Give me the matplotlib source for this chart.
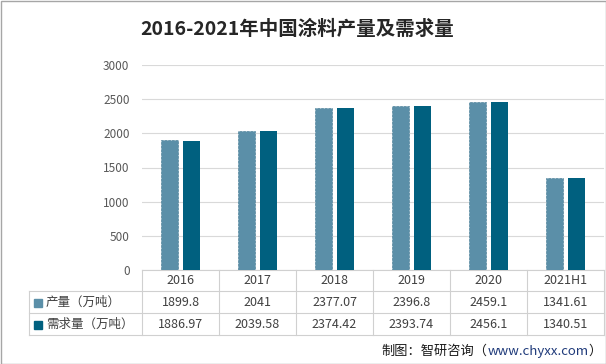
import numpy as np
import matplotlib
matplotlib.use('Agg')
import matplotlib.pyplot as plt
from matplotlib.transforms import blended_transform_factory
from matplotlib.patches import Rectangle

plt.rcParams['font.family'] = ['Noto Sans CJK SC', 'DejaVu Sans']

years = ['2016', '2017', '2018', '2019', '2020', '2021H1']
output = [1899.8, 2041, 2377.07, 2396.8, 2459.1, 1341.61]
demand = [1886.97, 2039.58, 2374.42, 2393.74, 2456.1, 1340.51]
output_labels = ['1899.8', '2041', '2377.07', '2396.8', '2459.1', '1341.61']
demand_labels = ['1886.97', '2039.58', '2374.42', '2393.74', '2456.1', '1340.51']
series_names = ['产量（万吨）', '需求量（万吨）']
colors = ['#5b8fa8', '#00607f']

W, H = 606, 364
fig = plt.figure(figsize=(W / 100, H / 100), dpi=100)
# plot area in pixels: x 142..604, y 65..270
ax = fig.add_axes([142 / W, (H - 270) / H, 462 / W, 205 / H])

x = np.arange(len(years))
ax.bar(x - 0.143, output, 0.22, color=colors[0], edgecolor='#52849c',
       linestyle='--', linewidth=0.5, zorder=3)
ax.bar(x + 0.143, demand, 0.22, color=colors[1], zorder=3)

ax.set_xlim(-0.5, len(years) - 0.5)
ax.set_ylim(0, 3000)
ax.set_yticks(range(0, 3001, 500))
ax.grid(axis='y', color='#d9d9d9', linewidth=0.8)
ax.set_axisbelow(True)
for s in ['left', 'right', 'top']:
    ax.spines[s].set_visible(False)
ax.spines['bottom'].set_color('#d0d0d0')
ax.set_xticks([])
ax.tick_params(axis='y', length=0, labelsize=8.5, labelcolor='#595959', pad=9)

# ---- data table below the axis ----
trans = blended_transform_factory(ax.transData, ax.transAxes)


def xd(px):
    return -0.5 + (px - 142) / 77.0


def ya(py):
    return (270 - py) / 205.0


line_kw = dict(color='#d0d0d0', linewidth=0.8, transform=trans, clip_on=False)
for py in [291, 313, 335]:
    ax.plot([xd(29), xd(604)], [ya(py), ya(py)], **line_kw)
ax.plot([xd(29), xd(29)], [ya(291), ya(335)], **line_kw)
for i in range(len(years) + 1):
    bx = i - 0.5
    ax.plot([bx, bx], [ya(270), ya(335)], **line_kw)

for i, yr in enumerate(years):
    ax.text(i, ya(281), yr, ha='center', va='center', fontsize=9,
            color='#404040', transform=trans)
    ax.text(i, ya(302.5), output_labels[i], ha='center', va='center',
            fontsize=9, color='#404040', transform=trans)
    ax.text(i, ya(324.5), demand_labels[i], ha='center', va='center',
            fontsize=9, color='#404040', transform=trans)

for name, c, py in zip(series_names, colors, [302.5, 324.5]):
    ax.plot([xd(38)], [ya(py)], marker='s', markersize=5.5, color=c,
            transform=trans, clip_on=False)
    ax.text(xd(46), ya(py), name, ha='left', va='center', fontsize=9,
            color='#404040', transform=trans)

# ---- title ----
fig.text(297 / W, 1 - 29 / H, '2016-2021年中国涂料产量及需求量',
         ha='center', va='center', fontsize=14, fontweight='bold',
         color='#262626')

# ---- source line (mixed colours) ----
fig.canvas.draw()
r = fig.canvas.get_renderer()
fy = 1 - 351 / H
t3 = fig.text(602 / W, fy, '）', ha='right', va='center', fontsize=9.5,
              color='#1a1a1a')
x3 = t3.get_window_extent(r).x0
t2 = fig.text(x3 / W, fy, 'www.chyxx.com', ha='right', va='center',
              fontsize=9.5, color='#1f3a7a')
x2 = t2.get_window_extent(r).x0
fig.text(x2 / W, fy, '制图：智研咨询（', ha='right', va='center',
         fontsize=9.5, color='#1a1a1a')

# outer frame
fig.add_artist(Rectangle((0.5 / W, 0.5 / H), 1 - 1 / W, 1 - 1 / H,
                         transform=fig.transFigure, fill=False,
                         edgecolor='#a6a6a6', linewidth=1))

fig.savefig('out.png', dpi=100)
